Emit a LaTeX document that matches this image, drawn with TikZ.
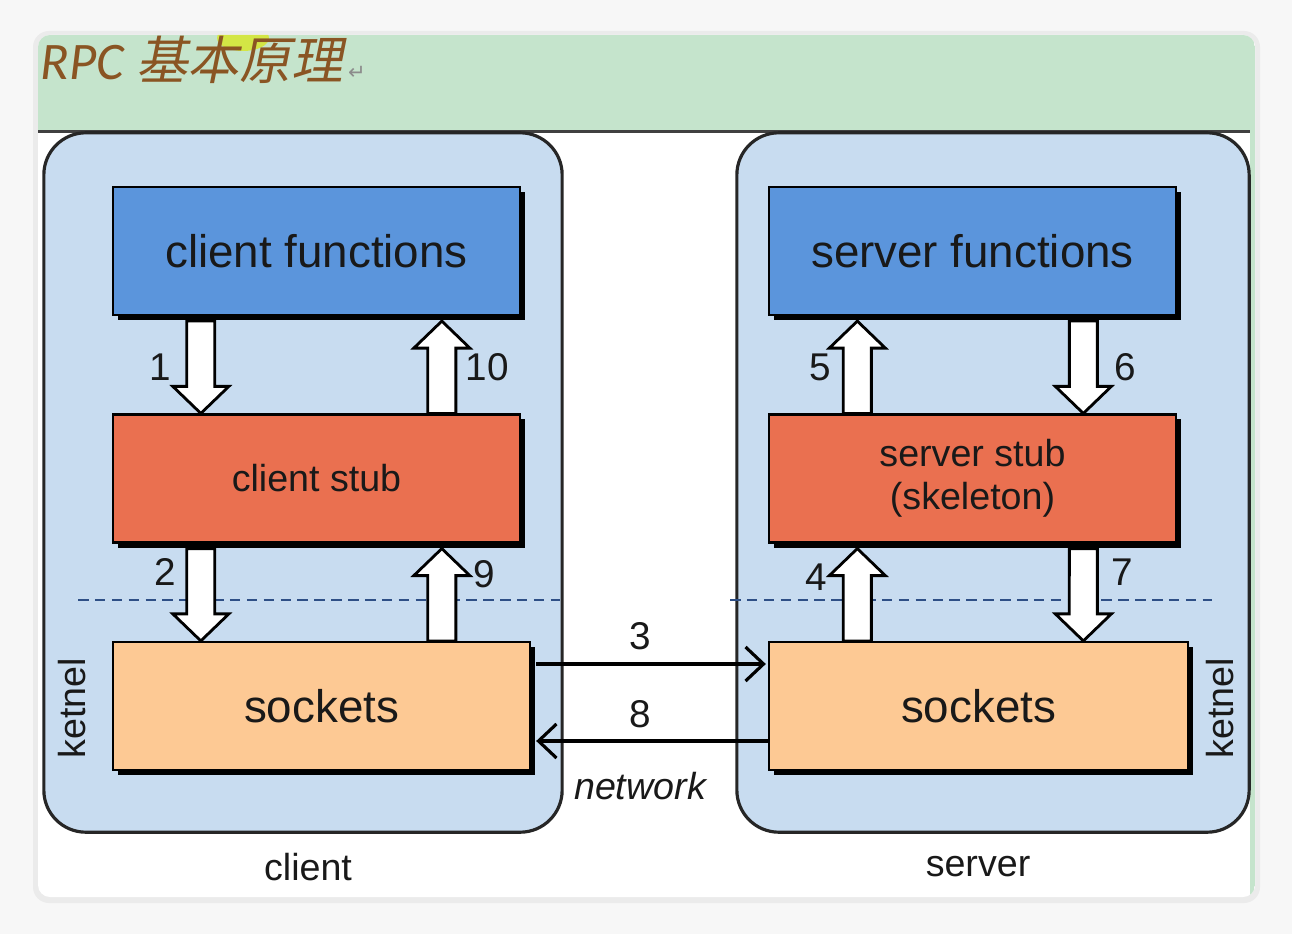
\documentclass[tikz,border=0pt]{standalone}
\usepackage{fontspec}
\setmainfont{Liberation Sans}
\newfontfamily\titlefont{Carlito}
\newfontfamily\cjkfont[FakeSlant=0.2]{Noto Sans CJK SC}
\newfontfamily\symfont{DejaVu Sans}
\usetikzlibrary{calc,shadows,arrows.meta}

\definecolor{panelblue}{HTML}{C8DCF0}
\definecolor{funcblue}{HTML}{5B95DC}
\definecolor{stubred}{HTML}{EA7050}
\definecolor{sockpeach}{HTML}{FDC994}
\definecolor{bandgreen}{HTML}{C5E4CC}
\definecolor{titlebrown}{HTML}{8A5523}
\definecolor{dashblue}{HTML}{2E4F86}

% fat white arrow between two named points
\newcommand\blkarrow[2]{%
  \coordinate (bh) at ($(#2)!0.27cm!(#1)$);
  \draw[blkarr] ($(#1)!0.14cm!90:(#2)$) -- ($(bh)!0.14cm!90:(#2)$) -- ($(bh)!0.28cm!90:(#2)$) -- (#2)
    -- ($(bh)!0.28cm!-90:(#2)$) -- ($(bh)!0.14cm!-90:(#2)$) -- ($(#1)!0.14cm!-90:(#2)$) -- cycle;}

\begin{document}
\begin{tikzpicture}[x=0.01cm, y=-0.01cm,
    panel/.style={draw=black!85, line width=0.9pt, fill=panelblue, rounded corners=0.42cm},
    layer/.style={draw=black, line width=0.6pt, inner sep=0pt, align=center, text=black!90,
        minimum height=1.28cm,
        drop shadow={shadow xshift=0.05cm, shadow yshift=-0.05cm, fill=black, opacity=1}},
    big/.style={font=\fontsize{13}{15}\selectfont},
    lbl/.style={font=\fontsize{10.7}{12.3}\selectfont, text=black!90},
    num/.style={font=\fontsize{11}{13}\selectfont, text=black!90},
    blkarr/.style={draw=black, fill=white, line width=0.8pt, line join=miter},
    net/.style={line width=0.9pt, -{Straight Barb[length=1.8mm,width=3.4mm]}},
    dashline/.style={draw=dashblue, line width=0.8pt, dash pattern=on 3pt off 1.8pt}
]
    % window
    \fill[black!3] (0,0) rectangle (1292,934);
    \fill[black!8, rounded corners=0.16cm] (33,31) rectangle (1260,903);
    \fill[white, rounded corners=0.12cm] (38,35) rectangle (1255,897);
    \begin{scope}
        \clip[rounded corners=0.12cm] (38,35) rectangle (1255,897);
        \fill[bandgreen] (38,35) rectangle (1255,131);
        \fill[bandgreen] (1250,131) rectangle (1255,897);
        \fill[yellow!85!green, opacity=0.7] (243,38) ellipse (26 and 13);
    \end{scope}
    \draw[black!75, line width=0.6pt] (38,131.5) -- (1250,131.5);
    \node[anchor=base west, inner sep=0pt, text=titlebrown] (title) at (40,80)
        {\fontsize{15}{18}\selectfont\titlefont\itshape RPC {\cjkfont\fontsize{14.7}{18}\selectfont 基本原理}\hspace{1.5pt}{\symfont\fontsize{6}{8}\selectfont\color{black!45}↵}};

    % the two machines
    \node[panel, minimum width=5.18cm, minimum height=6.99cm] (cpanel) at (303,482.5) {};
    \node[panel, minimum width=5.12cm, minimum height=6.99cm] (spanel) at (993,482.5) {};
    \draw[dashline] (78,600) -- (560,600);
    \draw[dashline] (730,600) -- (1212,600);

    % layers
    \node[layer, big, fill=funcblue, minimum width=4.07cm] (cf) at (316.5,251) {client functions};
    \node[layer, lbl, fill=stubred, minimum width=4.07cm] (cs) at (316.5,478.5) {client stub};
    \node[layer, big, fill=sockpeach, minimum width=4.17cm] (cso) at (321.5,706) {sockets};
    \node[layer, big, fill=funcblue, minimum width=4.07cm] (sf) at (972.5,251) {server functions};
    \node[layer, lbl, fill=stubred, minimum width=4.07cm] (ss) at (972.5,478.5) {server stub\\(skeleton)};
    \node[layer, big, fill=sockpeach, minimum width=4.19cm] (sso) at (978.5,706) {sockets};

    % client side calls
    \coordinate (c1a) at ($(cf.south west)+(89,5)$);
    \coordinate (c1b) at ($(cs.north west)+(89,0)$);
    \coordinate (c10a) at ($(cs.north west)+(330,0)$);
    \coordinate (c10b) at ($(cf.south west)+(330,5)$);
    \coordinate (c2a) at ($(cs.south west)+(89,5)$);
    \coordinate (c2b) at ($(cso.north west)+(89,0)$);
    \coordinate (c9a) at ($(cso.north west)+(330,0)$);
    \coordinate (c9b) at ($(cs.south west)+(330,5)$);
    \blkarrow{c1a}{c1b}
    \blkarrow{c10a}{c10b}
    \blkarrow{c2a}{c2b}
    \blkarrow{c9a}{c9b}

    % server side calls
    \coordinate (s5a) at ($(ss.north west)+(89.5,0)$);
    \coordinate (s5b) at ($(sf.south west)+(89.5,5)$);
    \coordinate (s6a) at ($(sf.south west)+(315.5,5)$);
    \coordinate (s6b) at ($(ss.north west)+(315.5,0)$);
    \coordinate (s4a) at ($(sso.north west)+(89.5,0)$);
    \coordinate (s4b) at ($(ss.south west)+(89.5,5)$);
    \coordinate (s7a) at ($(ss.south west)+(315.5,5)$);
    \coordinate (s7b) at ($(sso.north west)+(315.5,0)$);
    \blkarrow{s5a}{s5b}
    \blkarrow{s6a}{s6b}
    \blkarrow{s4a}{s4b}
    \blkarrow{s7a}{s7b}

    % network
    \draw[net] ($(cso.east)+(5,-42)$) -- ($(sso.west)+(-2,-42)$);
    \draw[net] ($(sso.west)+(0,35)$) -- ($(cso.east)+(5,35)$);

    \foreach \n/\x/\y in {1/160/367, 10/487/367, 2/165/572, 9/484/574, 5/820/367,
                          6/1125/367, 4/816/577, 7/1122/572, 3/640/636, 8/640/714}
        \node[num] (n\n) at (\x,\y) {\n};

    \node[lbl, font=\fontsize{10.7}{13}\selectfont\itshape] (network) at (640,786) {network};
    \node[lbl, rotate=90] (kc) at (72,708) {ketnel};
    \node[lbl, rotate=90] (ks) at (1220,708) {ketnel};
    \node[lbl] (client) at (308,867) {client};
    \node[lbl] (server) at (978,867) {server};
\end{tikzpicture}
\end{document}
